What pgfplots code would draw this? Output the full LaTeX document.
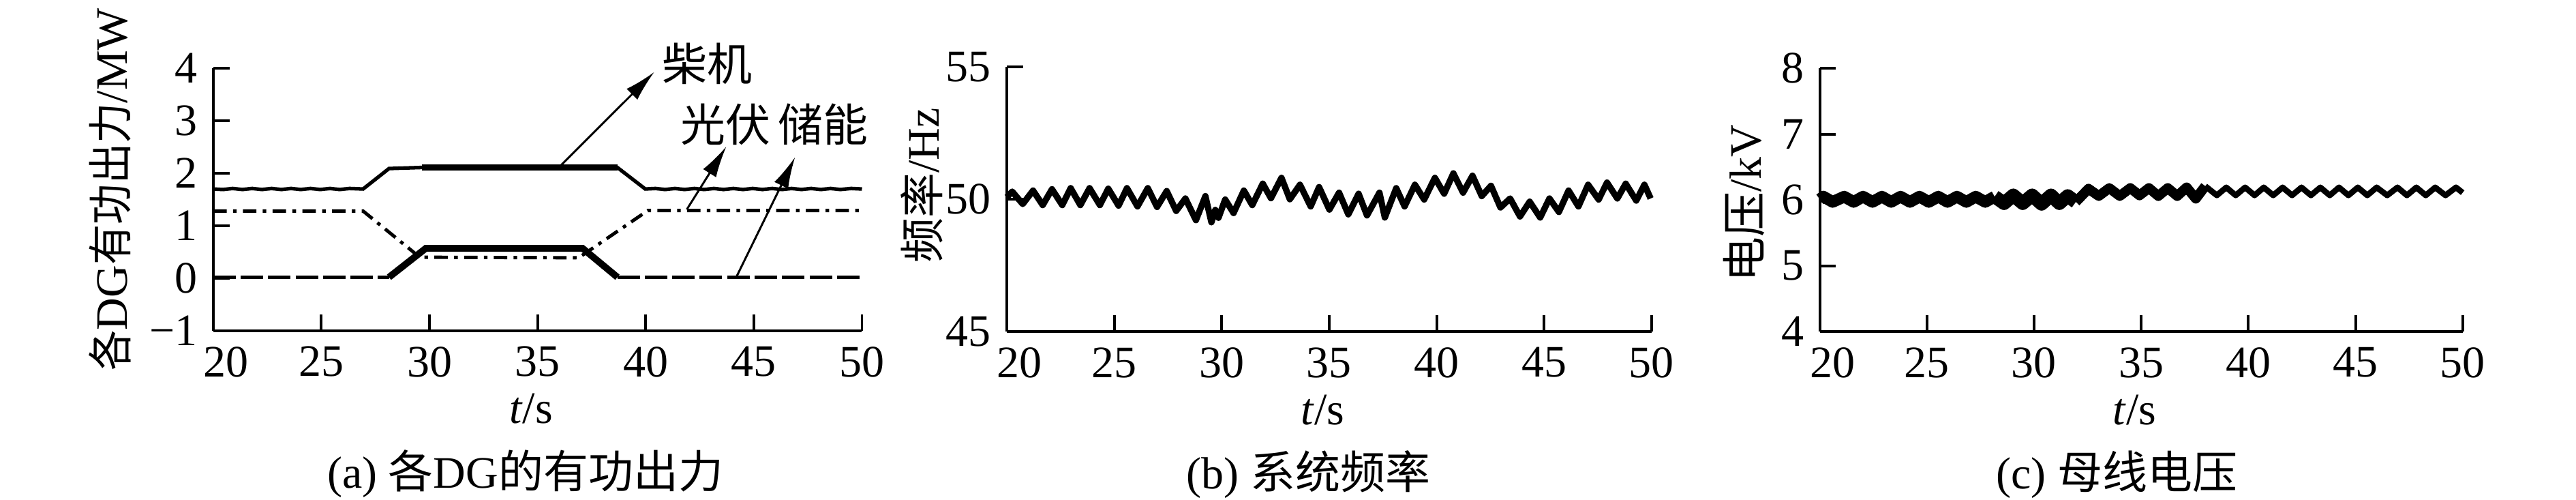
\documentclass[border=0pt]{standalone}
\usepackage{fontspec}
\setmainfont{Liberation Serif}
\newfontfamily\cjk{Noto Sans CJK SC}
\newfontfamily\cjkn[FakeStretch=0.9]{Noto Sans CJK SC}
\usepackage{pgfplots}
\pgfplotsset{compat=1.18}
\usetikzlibrary{arrows.meta}

% diesel, PV and storage output (MW)
\pgfplotstableread{
t v
20.00 1.70
20.45 1.69
20.90 1.71
21.35 1.69
21.80 1.71
22.25 1.69
22.70 1.71
23.15 1.69
23.60 1.71
24.05 1.69
24.50 1.71
24.95 1.69
25.40 1.71
25.85 1.69
26.30 1.71
26.93 1.70
28.13 2.09
29.64 2.11
38.69 2.11
39.98 1.70
40.45 1.71
40.90 1.69
41.35 1.71
41.80 1.69
42.25 1.71
42.70 1.69
43.15 1.71
43.60 1.69
44.05 1.71
44.50 1.69
44.95 1.71
45.40 1.69
45.85 1.71
46.30 1.69
46.75 1.71
47.20 1.69
47.65 1.71
48.10 1.69
48.55 1.71
49.00 1.69
49.50 1.71
50.00 1.70
}\diesel
\pgfplotstableread{
t v
20.00 1.28
26.93 1.28
29.55 0.40
36.90 0.39
40.10 1.29
50.00 1.29
}\pv
\pgfplotstableread{
t v
28.13 0.02
29.83 0.57
37.08 0.57
38.69 0.02
}\storemid
\pgfplotstableread{
t v
20.00 0.02
28.13 0.02
}\storeA
\pgfplotstableread{
t v
38.69 0.02
50.00 0.02
}\storeB

% system frequency (Hz)
\pgfplotstableread{
t f
20.00 50.08
20.25 50.29
20.74 49.82
21.22 50.33
21.67 49.78
22.10 50.38
22.58 49.78
22.97 50.42
23.42 49.78
23.85 50.42
24.33 49.78
24.72 50.40
25.20 49.76
25.59 50.42
26.08 49.73
26.56 50.42
26.99 49.71
27.44 50.31
27.88 49.56
28.31 50.03
28.80 49.21
29.24 50.12
29.52 49.13
29.70 49.60
29.85 49.30
30.16 49.99
30.55 49.48
31.03 50.33
31.42 49.78
31.91 50.59
32.29 50.04
32.78 50.81
33.17 50.00
33.64 50.55
34.14 49.73
34.53 50.46
35.01 49.61
35.46 50.25
35.89 49.43
36.37 50.21
36.76 49.39
37.34 50.25
37.59 49.31
38.12 50.42
38.51 49.73
38.99 50.55
39.42 49.99
39.92 50.81
40.35 50.21
40.78 50.98
41.23 50.25
41.67 50.89
42.10 50.12
42.53 50.51
42.97 49.69
43.42 50.03
43.88 49.35
44.33 49.91
44.82 49.31
45.25 50.03
45.69 49.52
46.14 50.33
46.60 49.73
47.05 50.55
47.54 49.99
47.93 50.63
48.41 50.03
48.80 50.59
49.29 49.95
49.67 50.55
49.96 50.03
}\freq

% bus voltage (kV)
\pgfplotstableread{
t u
20.00 6.01
20.17 6.05
20.60 5.97
21.14 6.05
21.58 5.97
22.02 6.05
22.46 5.97
22.90 6.05
23.33 5.97
23.77 6.05
24.21 5.97
24.65 6.05
25.09 5.97
25.53 6.05
25.96 5.97
26.40 6.05
26.84 5.97
27.28 6.05
27.72 5.97
28.16 6.05
}\voltA
\pgfplotstableread{
t u
28.16 6.05
28.60 5.95
29.03 6.07
29.47 5.95
29.91 6.07
30.35 5.94
30.79 6.07
31.18 5.95
31.57 6.06
31.95 5.97
}\voltB
\pgfplotstableread{
t u
31.95 5.97
32.54 6.17
33.02 6.06
33.51 6.18
34.00 6.06
34.49 6.18
34.92 6.07
35.36 6.18
35.80 6.06
36.24 6.18
36.68 6.06
37.12 6.19
37.55 6.02
37.99 6.21
}\voltC
\pgfplotstableread{
t u
37.99 6.21
38.53 6.07
38.97 6.19
39.41 6.07
39.85 6.19
40.29 6.07
40.72 6.19
41.16 6.07
41.60 6.19
42.04 6.07
42.48 6.19
42.92 6.07
43.36 6.19
43.80 6.07
44.23 6.19
44.67 6.07
45.11 6.19
45.55 6.07
45.99 6.19
46.48 6.07
46.96 6.19
47.40 6.07
47.84 6.19
48.28 6.07
48.72 6.19
49.20 6.07
49.69 6.19
50.00 6.11
}\voltD

\pgfplotsset{
  panel/.style={
    scale only axis,
    axis lines=left,
    axis line style={-, line width=0.6pt},
    every tick/.style={black, line width=0.6pt},
    major tick length=3.6pt,
    tick align=inside,
    enlargelimits=false,
    clip=false,
    xmin=20, xmax=50,
    xtick={20,25,30,35,40,45,50},
    xticklabels={\hspace*{5.6pt}20,25,30,35,40,45,50},
    /pgf/number format/assume math mode=true,
    xlabel={\textit{t}/s},
    every axis x label/.style={at={(axis description cs:0.49,-0.297)}, anchor=center},
  },
}
\tikzset{pointer/.style={-{Latex[length=7pt,width=3.4pt]}, line width=0.45pt}}

\begin{document}
\begin{tikzpicture}
\path[use as bounding box] (0,0) rectangle (572.6pt,111.06pt);

% (a)
\begin{axis}[panel,
  at={(47.4pt,37.6pt)}, anchor=south west,
  width=144.2pt, height=58.3pt,
  ymin=-1, ymax=4, ytick={-1,0,1,2,3,4},
  yticklabels={−1,0,1,2,3,4},
  ylabel={{\cjkn 各}DG{\cjkn 有功出力}/MW},
  every axis y label/.style={at={(axis description cs:-0.159,-0.213)}, rotate=90, anchor=west},
]
\addplot[black, line width=0.8pt] table[x=t,y=v] {\diesel};
\addplot[black, line width=1.3pt, forget plot] coordinates {(29.64,2.11) (38.69,2.11)};
\addplot[black, line width=0.75pt, dash pattern=on 3pt off 1.4pt on 0.8pt off 1.4pt] table[x=t,y=v] {\pv};
\addplot[black, line width=0.65pt, dash pattern=on 5pt off 1.1pt] table[x=t,y=v] {\storeA};
\addplot[black, line width=1.5pt] table[x=t,y=v] {\storemid};
\addplot[black, line width=0.65pt, dash pattern=on 5pt off 1.1pt] table[x=t,y=v] {\storeB};
\node[font=\cjk] at (axis cs:42.85,4.09) {柴机};
\node[font=\cjk] at (axis cs:43.70,2.93) {光伏};
\node[font=\cjk] at (axis cs:48.20,2.93) {储能};
\draw[pointer] (axis cs:36.0,2.12) -- (axis cs:40.4,3.93);
\draw[pointer] (axis cs:41.9,1.31) -- (axis cs:43.73,2.51);
\draw[pointer] (axis cs:44.2,0.03) -- (axis cs:46.91,2.31);
\node[anchor=center] at (axis description cs:0.481,-0.545) {(a) {\cjk 各}DG{\cjk 的有功出力}};
\end{axis}

% (b)
\begin{axis}[panel,
  at={(223.8pt,37.4pt)}, anchor=south west,
  width=143.3pt, height=58.8pt,
  ymin=45, ymax=55, ytick={45,50,55},
  ylabel={{\cjk 频率}/Hz},
  every axis y label/.style={at={(axis description cs:-0.132,0.551)}, rotate=90, anchor=center},
]
\addplot[black, line width=1.4pt, line join=round] table[x=t,y=f] {\freq};
\node[anchor=center] at (axis description cs:0.468,-0.539) {(b) {\cjk 系统频率}};
\end{axis}

% (c)
\begin{axis}[panel,
  at={(404.5pt,37.4pt)}, anchor=south west,
  width=142.9pt, height=58.5pt,
  ymin=4, ymax=8, ytick={4,5,6,7,8},
  ylabel={{\cjk 电压}/kV},
  every axis y label/.style={at={(axis description cs:-0.118,0.487)}, rotate=90, anchor=center},
]
\addplot[black, line width=2.6pt, line join=round] table[x=t,y=u] {\voltA};
\addplot[black, line width=3pt, line join=round] table[x=t,y=u] {\voltB};
\addplot[black, line width=2.2pt, line join=round] table[x=t,y=u] {\voltC};
\addplot[black, line width=1.3pt, line join=round] table[x=t,y=u] {\voltD};
\node[anchor=center] at (axis description cs:0.462,-0.542) {(c) {\cjk 母线电压}};
\end{axis}
\end{tikzpicture}
\end{document}
